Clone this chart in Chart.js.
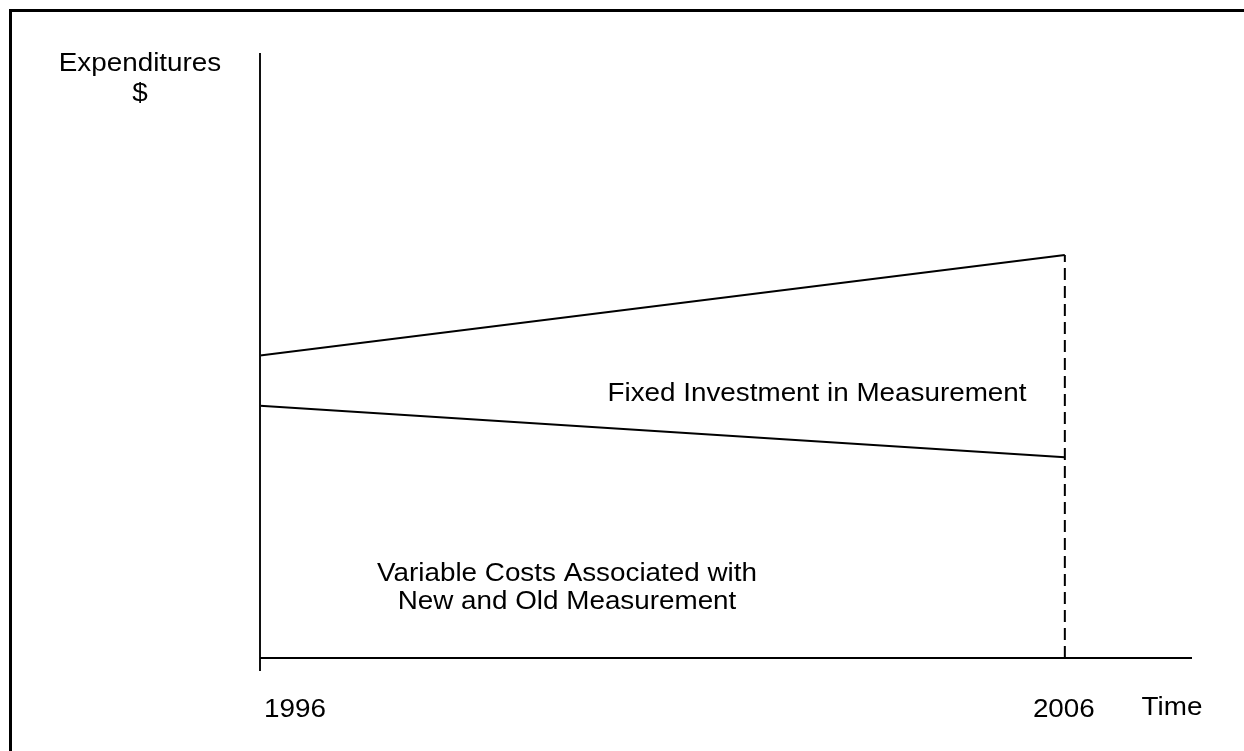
<!DOCTYPE html>
<html>
<head>
<meta charset="utf-8">
<style>
  html, body { margin: 0; padding: 0; background: #fff; }
  #wrap { width: 1244px; height: 751px; position: relative; }
</style>
<script src="https://cdn.jsdelivr.net/npm/chart.js@4/dist/chart.umd.min.js"></script>
</head>
<body>
<div id="wrap"><canvas id="c" width="1244" height="751"></canvas></div>
<script>
// ---- data ----
const years = [1996, 2006];
const upperLine = [50.0, 66.6];      // top of fixed investment band
const lowerLine = [41.7, 33.2];      // top of variable costs
const xTickLabels = ['1996', '2006'];
const xRange = [1996, 2007.58];
const yRange = [0, 100];
const yAxisTitle = ['Expenditures', '$'];
const xAxisTitle = 'Time';
const bandLabel = 'Fixed Investment in Measurement';
const baseLabel = ['Variable Costs Associated with', 'New and Old Measurement'];

const FONT = '26px "Liberation Sans", Arial, sans-serif';
const HSCALE = 1.07;

const pts = (ys) => years.map((x, i) => ({ x, y: ys[i] }));

const decor = {
  id: 'decor',
  afterDraw(chart) {
    const ctx = chart.ctx;
    const xs = chart.scales.x, ys = chart.scales.y;
    const x0 = xs.getPixelForValue(xRange[0]);
    const x1 = xs.getPixelForValue(xRange[1]);
    const yTop = ys.getPixelForValue(yRange[1]);
    const yBase = ys.getPixelForValue(yRange[0]);
    ctx.save();
    // frame (top and left)
    ctx.fillStyle = '#000';
    ctx.fillRect(9, 9, 1244 - 9, 3);
    ctx.fillRect(9, 9, 3, 751 - 9);
    // y axis
    ctx.strokeStyle = '#111';
    ctx.lineWidth = 2;
    ctx.beginPath();
    ctx.moveTo(x0, yTop);
    ctx.lineTo(x0, yBase + 13);
    ctx.stroke();
    // x axis
    ctx.strokeStyle = '#000';
    ctx.beginPath();
    ctx.moveTo(x0, yBase);
    ctx.lineTo(x1, yBase);
    ctx.stroke();

    ctx.fillStyle = '#000';
    ctx.font = FONT;
    ctx.textBaseline = 'alphabetic';
    ctx.textAlign = 'center';
    const txt = (s, x, y) => {
      ctx.save();
      ctx.translate(x, y);
      ctx.scale(HSCALE, 1);
      ctx.fillText(s, 0, 0);
      ctx.restore();
    };
    // tick labels
    txt(xTickLabels[0], xs.getPixelForValue(years[0]) + 35, 717);
    txt(xTickLabels[1], xs.getPixelForValue(years[1]) - 1, 717);
    txt(xAxisTitle, 1172, 715);
    // y title
    txt(yAxisTitle[0], 140, 71);
    txt(yAxisTitle[1], 140, 101);
    // region labels
    txt(bandLabel, 817, 401);
    txt(baseLabel[0], 567, 581);
    txt(baseLabel[1], 567, 609);
    ctx.restore();
  }
};

new Chart(document.getElementById('c'), {
  type: 'line',
  data: {
    datasets: [
      { data: pts(upperLine), borderColor: '#000', borderWidth: 2, pointRadius: 0, fill: false, tension: 0 },
      { data: pts(lowerLine), borderColor: '#000', borderWidth: 2, pointRadius: 0, fill: false, tension: 0 },
      { data: [{ x: years[1], y: yRange[0] }, { x: years[1], y: upperLine[1] }],
        borderColor: '#000', borderWidth: 2, borderDash: [12, 6], pointRadius: 0, fill: false, tension: 0 }
    ]
  },
  options: {
    responsive: false,
    animation: false,
    devicePixelRatio: 1,
    layout: { padding: { left: 260, right: 1244 - 1192, top: 53, bottom: 751 - 658 } },
    plugins: { legend: { display: false }, tooltip: { enabled: false } },
    scales: {
      x: { type: 'linear', min: xRange[0], max: xRange[1], display: false },
      y: { type: 'linear', min: yRange[0], max: yRange[1], display: false }
    }
  },
  plugins: [decor]
});
</script>
</body>
</html>
